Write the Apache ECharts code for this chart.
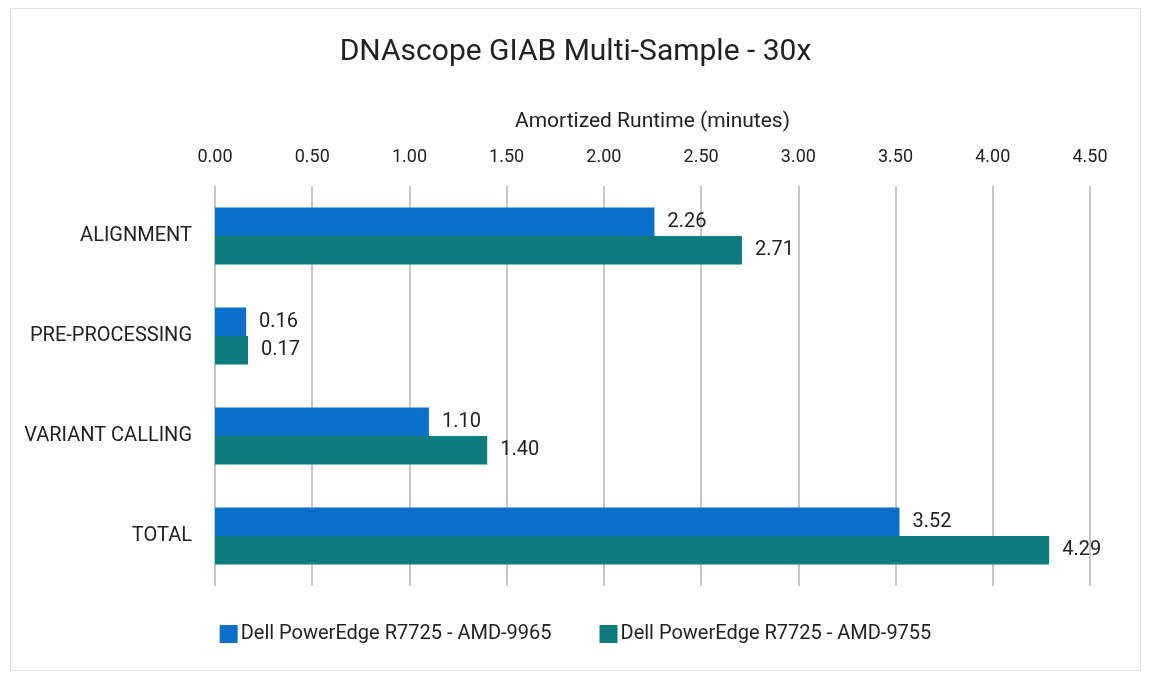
<!DOCTYPE html>
<html>
<head>
<meta charset="utf-8">
<script src="https://cdn.jsdelivr.net/npm/echarts@6/dist/echarts.min.js"></script>
<style>
  html, body { margin: 0; padding: 0; background: #fff; }
  #main { width: 1151px; height: 681px; }
</style>
</head>
<body>
<div id="main"></div>
<script>
// 数据
var categories = ['ALIGNMENT', 'PRE-PROCESSING', 'VARIANT CALLING', 'TOTAL'];
var seriesNames = ['Dell PowerEdge R7725 - AMD-9965', 'Dell PowerEdge R7725 - AMD-9755'];
var amd9965 = [2.26, 0.16, 1.10, 3.52];
var amd9755 = [2.71, 0.17, 1.40, 4.29];

var font = 'Roboto, "Liberation Sans", sans-serif';

var option = {
    animation: false,
    backgroundColor: '#fff',
    title: {
        text: 'DNAscope GIAB Multi-Sample - 30x',
        left: 'center',
        top: 32,
        textStyle: {fontFamily: font, fontSize: 30, fontWeight: 'normal', color: '#222'}
    },
    graphic: [{
        type: 'rect',
        shape: {x: 10.5, y: 8.5, width: 1130, height: 662},
        style: {fill: 'none', stroke: '#e3e3e3', lineWidth: 1},
        silent: true
    }],
    legend: {
        data: seriesNames,
        bottom: 32,
        left: 'center',
        itemWidth: 18,
        itemHeight: 18,
        itemGap: 48,
        icon: 'rect',
        textStyle: {fontFamily: font, fontSize: 20, color: '#222', padding: [0, 0, 0, -2]}
    },
    grid: {left: 215, right: 61, top: 186, bottom: 95},
    xAxis: {
        type: 'value',
        position: 'top',
        min: 0,
        max: 4.5,
        interval: 0.5,
        name: 'Amortized Runtime (minutes)',
        nameLocation: 'middle',
        nameGap: 54,
        nameTextStyle: {fontFamily: font, fontSize: 21, color: '#222'},
        axisLine: {show: false},
        axisTick: {show: false},
        axisLabel: {
            fontFamily: font, fontSize: 18, color: '#222', margin: 20,
            formatter: function (v) { return v.toFixed(2); }
        },
        splitLine: {show: true, lineStyle: {color: '#c8c8c8', width: 2}}
    },
    yAxis: {
        type: 'category',
        data: categories,
        inverse: true,
        axisLine: {show: false},
        axisTick: {show: false},
        axisLabel: {fontFamily: font, fontSize: 20, color: '#222', margin: 23}
    },
    series: [{
        name: seriesNames[0],
        type: 'bar',
        data: amd9965,
        barCategoryGap: '43%',
        barGap: '0%',
        itemStyle: {color: '#0a70cc'},
        label: {
            show: true, position: 'right', distance: 13,
            fontFamily: font, fontSize: 20, color: '#222',
            formatter: function (p) { return p.value.toFixed(2); }
        }
    }, {
        name: seriesNames[1],
        type: 'bar',
        data: amd9755,
        barCategoryGap: '43%',
        barGap: '0%',
        itemStyle: {color: '#0f7b7d'},
        label: {
            show: true, position: 'right', distance: 13,
            fontFamily: font, fontSize: 20, color: '#222',
            formatter: function (p) { return p.value.toFixed(2); }
        }
    }]
};

var myChart = echarts.init(document.getElementById('main'));
myChart.setOption(option);
</script>
</body>
</html>
